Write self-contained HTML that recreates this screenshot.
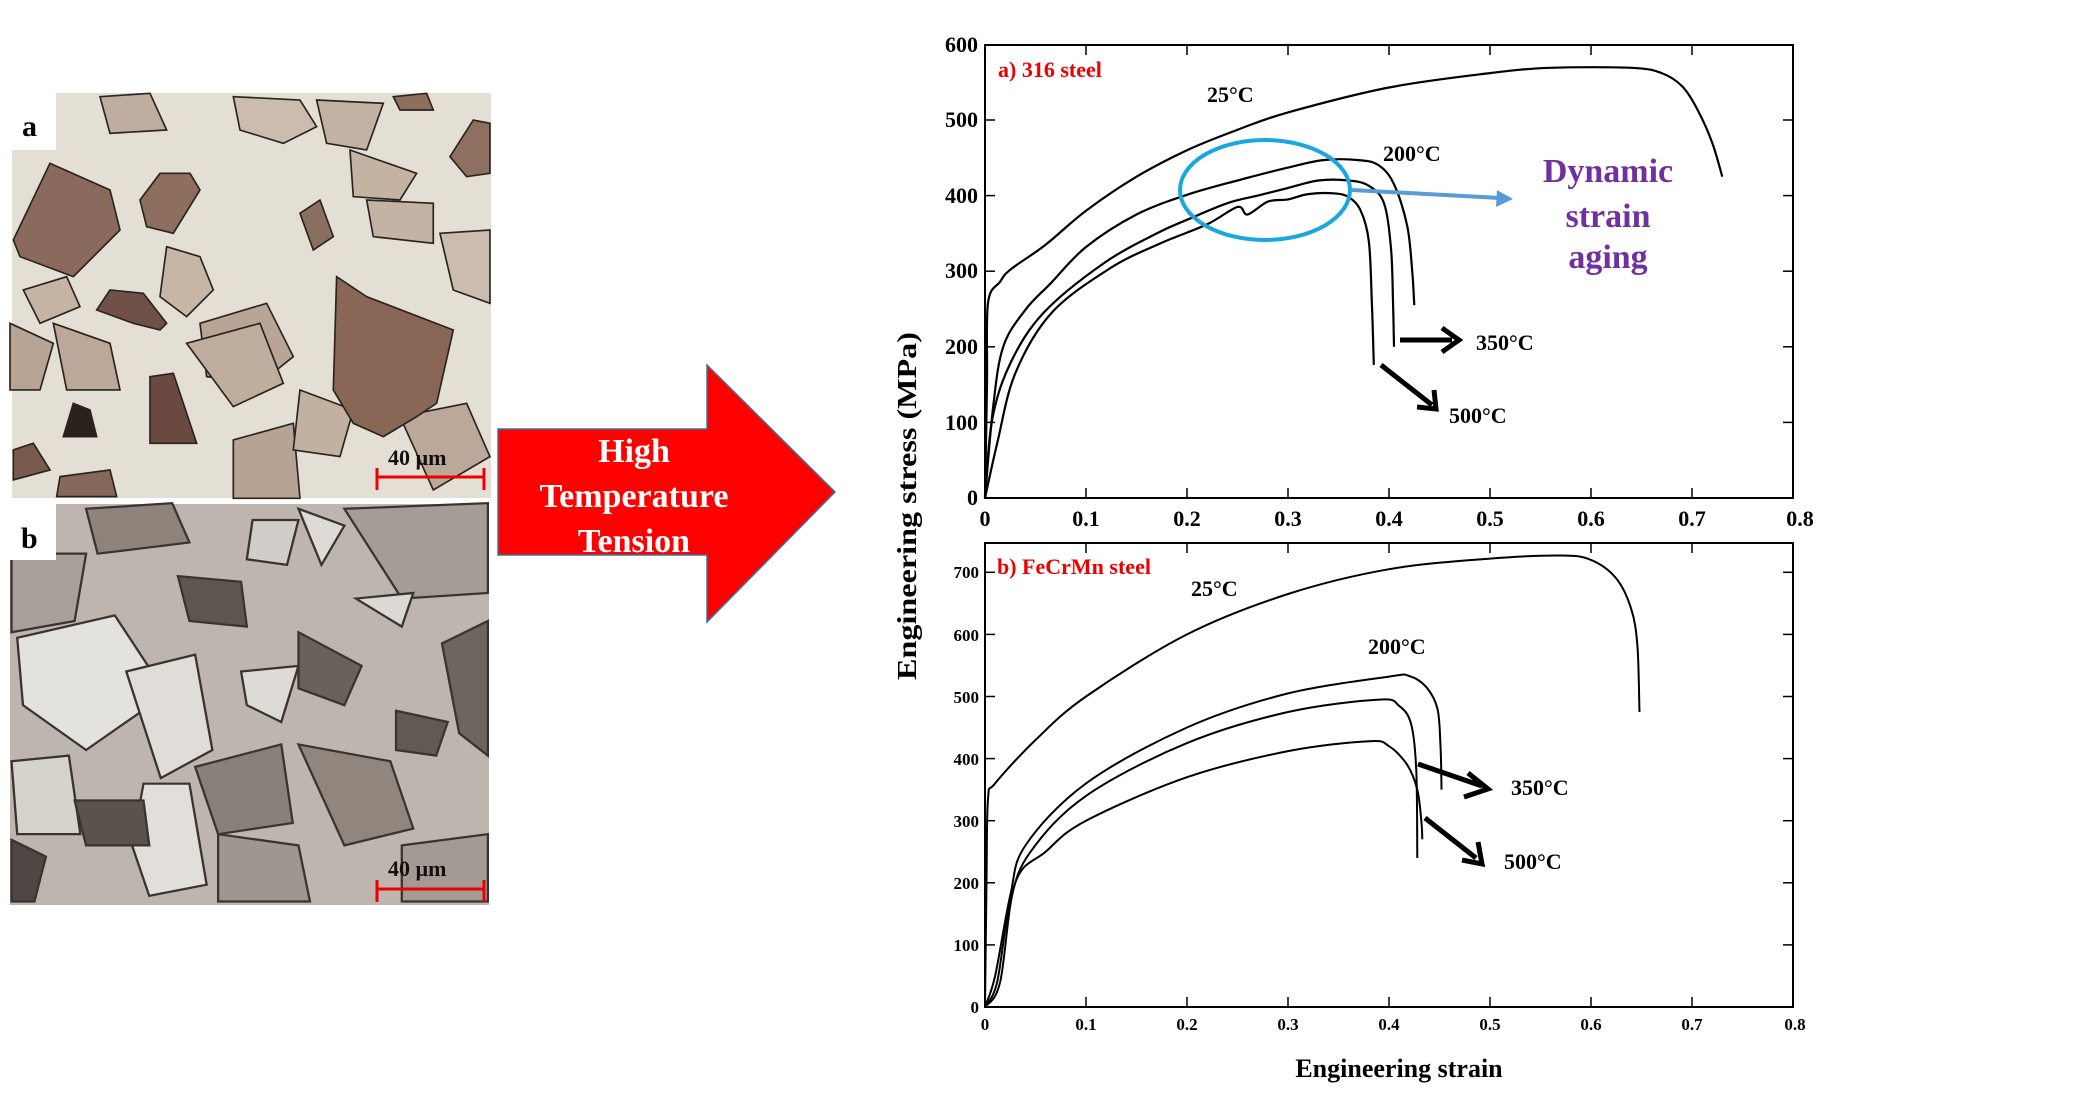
<!DOCTYPE html>
<html><head><meta charset="utf-8"><style>
html,body{margin:0;padding:0;background:#fff;}
svg{display:block}
text{font-family:"Liberation Serif",serif;font-weight:bold}
</style></head><body>
<svg id="s" width="2099" height="1102" viewBox="0 0 2099 1102" xmlns="http://www.w3.org/2000/svg">
<!-- micrograph a -->
<rect x="12" y="93" width="479" height="405" fill="#e3dfd4"/>
<g transform="translate(0,90) scale(0.3333)" stroke="#2a2420" stroke-width="5">
<polygon fill="#b9a596" points="600,700 800,640 880,800 780,880 620,860"/>
<polygon fill="#bba898" points="1200,980 1400,940 1470,1100 1300,1200"/>
<polygon fill="#c2b2a3" points="950,30 1150,40 1100,180 980,160"/>
<polygon fill="#bfae9f" points="300,20 450,10 500,120 330,130"/>
<polygon fill="#b8a494" points="30,700 160,760 120,900 30,900"/>
<polygon fill="#b7a393" points="700,1050 880,1000 900,1225 700,1225"/>
<polygon fill="#c3b3a4" points="1100,330 1300,340 1300,460 1120,440"/>
<polygon fill="#c7b5a6" points="500,470 600,500 640,600 560,680 480,620"/>
<polygon fill="#cbbcae" points="700,20 900,30 950,110 850,160 720,120"/>
<polygon fill="#c4b2a2" points="1050,180 1250,250 1200,330 1060,320"/>
<polygon fill="#bfae9e" points="560,760 780,700 850,880 700,950"/>
<polygon fill="#c5b3a4" points="70,600 200,560 240,650 120,700"/>
<polygon fill="#bca898" points="160,700 330,760 360,900 200,900"/>
<polygon fill="#c2b0a0" points="900,900 1060,960 1020,1100 880,1080"/>
<polygon fill="#ccbcad" points="1320,430 1470,420 1470,640 1360,600"/>
<polygon fill="#8a6a5c" points="40,450 150,220 330,300 360,420 220,560 60,500"/>
<polygon fill="#8e6e5e" points="420,330 480,250 570,250 600,300 520,430 440,410"/>
<polygon fill="#6e5048" points="290,660 330,600 430,610 500,700 480,720 400,700"/>
<polygon fill="#6a4a40" points="450,860 520,850 590,1060 450,1060"/>
<polygon fill="#2a201c" points="190,1040 220,940 270,960 290,1040"/>
<polygon fill="#8a6656" points="1010,560 1100,620 1360,720 1310,940 1250,980 1150,1040 1060,1000 1000,900"/>
<polygon fill="#8e7060" points="1350,200 1420,90 1470,100 1470,250 1400,260"/>
<polygon fill="#8e6e5e" points="1180,20 1280,10 1300,60 1200,60"/>
<polygon fill="#7a5a4c" points="40,1080 100,1060 150,1140 40,1170"/>
<polygon fill="#8a6e60" points="900,370 960,330 1000,440 940,480"/>
<polygon fill="#86685a" points="180,1160 330,1140 350,1220 170,1220"/>
</g>
<rect x="12" y="93" width="44" height="57" fill="#fff"/>
<text x="22" y="136" font-size="30">a</text>
<text x="388" y="465" font-size="22" fill="#111">40 µm</text>
<line x1="376" y1="477" x2="485" y2="477" stroke="#e00" stroke-width="3"/>
<line x1="377" y1="468" x2="377" y2="490" stroke="#e00" stroke-width="3"/>
<line x1="484" y1="468" x2="484" y2="490" stroke="#e00" stroke-width="3"/>
<!-- micrograph b -->
<rect x="10" y="504" width="479" height="401" fill="#bdb5ae"/>
<g transform="translate(0,60) scale(0.574,0.561)" stroke="#3a3430" stroke-width="4">
<polygon fill="#a59c95" points="600,800 850,790 850,950 700,960"/>
<polygon fill="#a8a09a" points="20,880 150,880 130,1000 20,1020"/>
<polygon fill="#9f968f" points="380,1380 520,1400 540,1500 380,1500"/>
<polygon fill="#a39a93" points="700,1400 850,1380 850,1500 700,1500"/>
<polygon fill="#d0ccc7" points="440,820 520,820 500,900 430,890"/>
<polygon fill="#e4e2de" points="30,1030 200,990 290,1130 150,1230 40,1150"/>
<polygon fill="#e0ddd8" points="220,1090 340,1060 370,1230 280,1280"/>
<polygon fill="#dedad6" points="420,1090 520,1080 490,1180 430,1150"/>
<polygon fill="#e2dfdb" points="250,1290 330,1290 360,1470 260,1490 230,1400"/>
<polygon fill="#dcd8d3" points="620,960 720,950 700,1010"/>
<polygon fill="#dedad5" points="520,800 600,830 560,900"/>
<polygon fill="#d6d2cc" points="20,1250 120,1240 140,1380 30,1380"/>
<polygon fill="#8a807a" points="340,1260 490,1220 510,1360 380,1380"/>
<polygon fill="#90867e" points="520,1220 680,1250 720,1370 600,1400"/>
<polygon fill="#8e847c" points="150,800 300,790 330,860 170,880"/>
<polygon fill="#5e5550" points="310,920 420,930 430,1010 330,1000"/>
<polygon fill="#5a524c" points="130,1320 250,1320 260,1400 150,1400"/>
<polygon fill="#6a615b" points="520,1020 630,1080 600,1150 520,1120"/>
<polygon fill="#625954" points="690,1160 780,1180 760,1240 690,1230"/>
<polygon fill="#6e6560" points="770,1040 850,1000 850,1240 800,1200"/>
<polygon fill="#4e4844" points="20,1390 80,1420 60,1500 20,1500"/>
</g>
<rect x="10" y="504" width="46" height="56" fill="#fff"/>
<text x="21" y="548" font-size="30">b</text>
<text x="388" y="876" font-size="22" fill="#111">40 µm</text>
<line x1="376" y1="889" x2="485" y2="889" stroke="#e00" stroke-width="3"/>
<line x1="377" y1="880" x2="377" y2="902" stroke="#e00" stroke-width="3"/>
<line x1="484" y1="880" x2="484" y2="902" stroke="#e00" stroke-width="3"/>
<!-- big arrow -->
<polygon points="498,429 707,429 707,365 835,492 707,622 707,555 498,555" fill="#f00" stroke="#41719c" stroke-width="1.5"/>
<text x="634" y="462" font-size="34" fill="#fff" text-anchor="middle">High</text>
<text x="634" y="507" font-size="34" fill="#fff" text-anchor="middle">Temperature</text>
<text x="634" y="552" font-size="34" fill="#fff" text-anchor="middle">Tension</text>

<!-- chart a -->
<rect x="985" y="45" width="808" height="453" fill="none" stroke="#000" stroke-width="2"/>
<g id="ta" stroke="#000" stroke-width="1.5"></g>
<g font-size="22" text-anchor="end">
<text x="978" y="505">0</text><text x="978" y="430">100</text><text x="978" y="354">200</text>
<text x="978" y="278">300</text><text x="978" y="203">400</text><text x="978" y="127">500</text><text x="978" y="52">600</text>
</g>
<g font-size="22" text-anchor="middle">
<text x="985" y="526">0</text><text x="1086" y="526">0.1</text><text x="1187" y="526">0.2</text><text x="1288" y="526">0.3</text>
<text x="1389" y="526">0.4</text><text x="1490" y="526">0.5</text><text x="1591" y="526">0.6</text><text x="1692" y="526">0.7</text><text x="1800" y="526">0.8</text>
</g>
<g id="ca" fill="none" stroke="#000" stroke-width="2.2"></g>
<text x="998" y="77" font-size="22" fill="#e00">a) 316 steel</text>
<text x="1207" y="102" font-size="22">25°C</text>
<text x="1383" y="161" font-size="22">200°C</text>
<ellipse cx="1265" cy="190" rx="85" ry="50" fill="none" stroke="#1aa7e0" stroke-width="4"/>
<line x1="1352" y1="190" x2="1500" y2="198" stroke="#5b9bd5" stroke-width="4"/>
<polygon points="1497,190 1513,199 1496,207" fill="#5b9bd5"/>
<text x="1608" y="182" font-size="34" fill="#7030a0" text-anchor="middle">Dynamic</text>
<text x="1608" y="227" font-size="34" fill="#7030a0" text-anchor="middle">strain</text>
<text x="1608" y="268" font-size="34" fill="#7030a0" text-anchor="middle">aging</text>
<line x1="1400" y1="340" x2="1452" y2="340" stroke="#000" stroke-width="5"/>
<polyline points="1442,328 1459,340 1442,352" fill="none" stroke="#000" stroke-width="5"/>
<text x="1476" y="350" font-size="22">350°C</text>
<line x1="1381" y1="365" x2="1432" y2="405" stroke="#000" stroke-width="5"/>
<polyline points="1417,407 1436,409 1434,390" fill="none" stroke="#000" stroke-width="5"/>
<text x="1449" y="423" font-size="22">500°C</text>

<text transform="translate(916,506) rotate(-90)" font-size="27" text-anchor="middle" textLength="348" lengthAdjust="spacingAndGlyphs">Engineering stress (MPa)</text>

<!-- chart b -->
<rect x="985" y="543" width="808" height="464" fill="none" stroke="#000" stroke-width="2"/>
<g id="tb" stroke="#000" stroke-width="1.5"></g>
<g font-size="17" text-anchor="end">
<text x="979" y="1013">0</text><text x="979" y="951">100</text><text x="979" y="889">200</text>
<text x="979" y="827">300</text><text x="979" y="765">400</text><text x="979" y="703">500</text><text x="979" y="641">600</text><text x="979" y="578">700</text>
</g>
<g font-size="17" text-anchor="middle">
<text x="985" y="1030">0</text><text x="1086" y="1030">0.1</text><text x="1187" y="1030">0.2</text><text x="1288" y="1030">0.3</text>
<text x="1389" y="1030">0.4</text><text x="1490" y="1030">0.5</text><text x="1591" y="1030">0.6</text><text x="1692" y="1030">0.7</text><text x="1795" y="1030">0.8</text>
</g>
<g id="cb" fill="none" stroke="#000" stroke-width="2"></g>
<text x="997" y="574" font-size="22" fill="#e00">b) FeCrMn steel</text>
<text x="1191" y="596" font-size="22">25°C</text>
<text x="1368" y="654" font-size="22">200°C</text>
<line x1="1418" y1="764" x2="1482" y2="786" stroke="#000" stroke-width="5"/>
<polyline points="1468,773 1488,789 1464,797" fill="none" stroke="#000" stroke-width="5"/>
<text x="1511" y="795" font-size="22">350°C</text>
<line x1="1425" y1="818" x2="1476" y2="858" stroke="#000" stroke-width="5"/>
<polyline points="1462,860 1482,864 1478,842" fill="none" stroke="#000" stroke-width="5"/>
<text x="1504" y="869" font-size="22">500°C</text>
<text x="1399" y="1077" font-size="26" text-anchor="middle">Engineering strain</text>
</svg>
<script>
(function(){
var NS="http://www.w3.org/2000/svg";
function el(p,tag,a){var e=document.createElementNS(NS,tag);for(var k in a)e.setAttribute(k,a[k]);document.getElementById(p).appendChild(e);}
for(var i=1;i<8;i++){var x=985+i*101;el("ta","line",{x1:x,y1:498,x2:x,y2:488});el("ta","line",{x1:x,y1:45,x2:x,y2:55});
el("tb","line",{x1:x,y1:1007,x2:x,y2:997});el("tb","line",{x1:x,y1:543,x2:x,y2:553});}
for(var j=1;j<6;j++){var y=498-j*75.6;el("ta","line",{x1:985,y1:y,x2:995,y2:y});el("ta","line",{x1:1793,y1:y,x2:1783,y2:y});}
for(var j=1;j<8;j++){var y=1007-j*62.1;el("tb","line",{x1:985,y1:y,x2:995,y2:y});el("tb","line",{x1:1793,y1:y,x2:1783,y2:y});}
function path(g,pts,sy,y0){
 var P=pts.map(function(p){return [985+p[0]*1010, y0-p[1]*sy];});
 var d="M"+P[0][0].toFixed(1)+","+P[0][1].toFixed(1);
 for(var i=0;i<P.length-1;i++){var p0=P[i-1]||P[i],p1=P[i],p2=P[i+1],p3=P[i+2]||p2;
  var c1=[p1[0]+(p2[0]-p0[0])/6,p1[1]+(p2[1]-p0[1])/6],c2=[p2[0]-(p3[0]-p1[0])/6,p2[1]-(p3[1]-p1[1])/6];
  d+=" C"+c1[0].toFixed(1)+","+c1[1].toFixed(1)+" "+c2[0].toFixed(1)+","+c2[1].toFixed(1)+" "+p2[0].toFixed(1)+","+p2[1].toFixed(1);}
 el(g,"path",{d:d});
}
var A=function(p){path("ca",p,0.756,498);},B=function(p){path("cb",p,0.621,1007);};
A([[0,0],[0.002,150],[0.003,258],[0.015,286],[0.025,302],[0.06,335],[0.1,380],[0.15,425],[0.2,460],[0.25,487],[0.3,510],[0.4,543],[0.5,562],[0.56,569],[0.64,569],[0.67,562],[0.69,545],[0.705,515],[0.72,470],[0.73,425]]);
A([[0,0],[0.008,120],[0.018,200],[0.04,249],[0.065,284],[0.1,332],[0.15,375],[0.2,401],[0.25,420],[0.3,437],[0.335,447],[0.37,447],[0.39,440],[0.405,415],[0.418,360],[0.423,300],[0.425,255]]);
A([[0,0],[0.007,103],[0.025,178],[0.058,245],[0.117,310],[0.17,350],[0.2,368],[0.24,390],[0.27,400],[0.3,410],[0.33,420],[0.36,420],[0.38,413],[0.395,390],[0.402,330],[0.404,260],[0.405,200]]);
A([[0,0],[0.012,72],[0.03,165],[0.066,245],[0.124,304],[0.174,337],[0.22,362],[0.25,385],[0.26,375],[0.28,392],[0.3,395],[0.32,402],[0.345,403],[0.36,398],[0.372,380],[0.38,340],[0.383,260],[0.385,176]]);
B([[0,0],[0.0015,200],[0.003,335],[0.01,360],[0.05,430],[0.1,500],[0.2,600],[0.3,665],[0.4,705],[0.5,722],[0.57,727],[0.6,720],[0.625,690],[0.64,640],[0.646,580],[0.648,475]]);
B([[0,0],[0.01,50],[0.025,180],[0.04,260],[0.1,360],[0.2,450],[0.3,505],[0.4,532],[0.42,533],[0.437,515],[0.448,480],[0.451,420],[0.452,350]]);
B([[0,0],[0.012,40],[0.025,170],[0.045,250],[0.1,340],[0.2,425],[0.3,475],[0.39,495],[0.41,485],[0.422,455],[0.427,380],[0.428,240]]);
B([[0,0],[0.015,40],[0.03,200],[0.06,250],[0.1,300],[0.2,370],[0.3,412],[0.38,428],[0.4,420],[0.418,390],[0.428,350],[0.432,300],[0.433,270]]);
})();
</script>
</body></html>
